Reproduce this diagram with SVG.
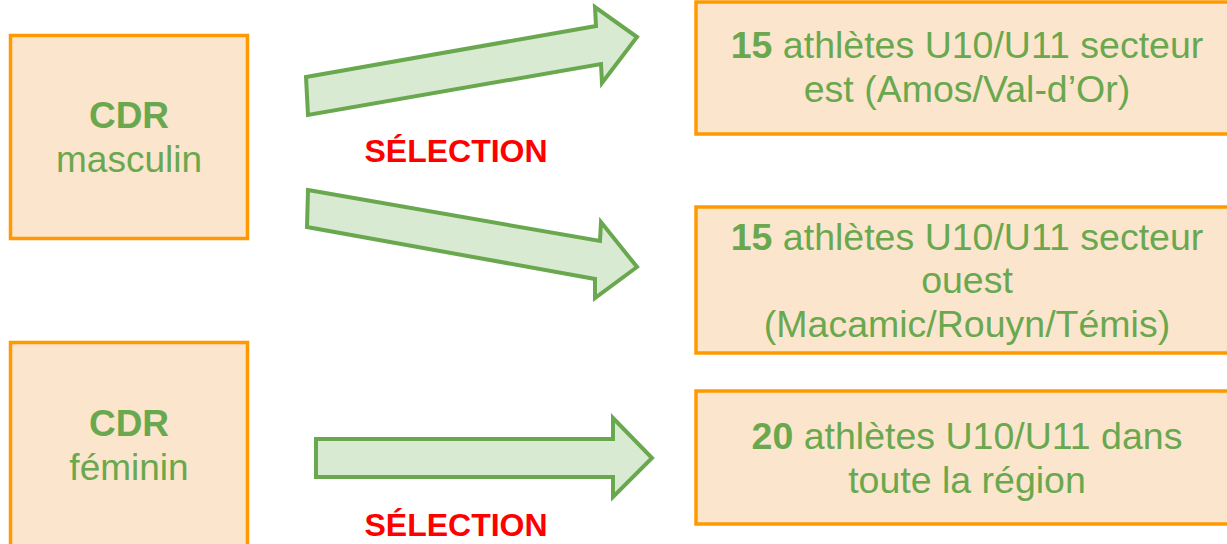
<svg xmlns="http://www.w3.org/2000/svg" width="1227" height="544" viewBox="0 0 1227 544">
<style>
.box{fill:#fce5cd;stroke:#ff9900;stroke-width:3.5}
.arr{fill:#d9ead3;stroke:#6aa84f;stroke-width:4;stroke-linejoin:miter}
.t{font-family:"Liberation Sans",Arial,sans-serif;font-size:37.5px;fill:#6aa84f;text-anchor:middle}
.l{font-size:37px}
.b{font-weight:bold}
.sel{font-family:"Liberation Sans",Arial,sans-serif;font-size:32px;font-weight:bold;fill:#ff0000;text-anchor:middle}
</style>
<rect width="1227" height="544" fill="#ffffff"/>
<g id="cdr-masculin">
<rect class="box" x="10.5" y="35.5" width="237" height="203"/>
<text class="t l" x="129" y="128"><tspan class="b">CDR</tspan></text>
<text class="t l" x="129" y="172">masculin</text>
</g>
<g id="cdr-feminin">
<rect class="box" x="10.5" y="342.5" width="237" height="210"/>
<text class="t l" x="129" y="436"><tspan class="b">CDR</tspan></text>
<text class="t l" x="129" y="480">féminin</text>
</g>
<g id="secteur-est">
<rect class="box" x="696" y="2" width="545" height="132"/>
<text class="t" x="967" y="58"><tspan class="b">15</tspan> athlètes U10/U11 secteur</text>
<text class="t" x="967" y="102">est (Amos/Val-d’Or)</text>
</g>
<g id="secteur-ouest">
<rect class="box" x="696" y="207" width="545" height="146"/>
<text class="t" x="967" y="250"><tspan class="b">15</tspan> athlètes U10/U11 secteur</text>
<text class="t" x="967" y="293">ouest</text>
<text class="t" x="967" y="337">(Macamic/Rouyn/Témis)</text>
</g>
<g id="region">
<rect class="box" x="696" y="391" width="545" height="133"/>
<text class="t" x="967" y="449"><tspan class="b">20</tspan> athlètes U10/U11 dans</text>
<text class="t" x="967" y="493">toute la région</text>
</g>
<g id="connectors">
<polygon class="arr" points="306,77 596,26 595,7 637,37 602,83 601,64 308,115"/>
<polygon class="arr" points="308,190 600,241 601,222 637,267 595,298 595,279 307,227"/>
<polygon class="arr" points="316,439 613,439 613,418 652,458 613,497 613,477 316,477"/>
</g>
<text class="sel" x="456" y="162">SÉLECTION</text>
<text class="sel" x="456" y="536">SÉLECTION</text>
</svg>
